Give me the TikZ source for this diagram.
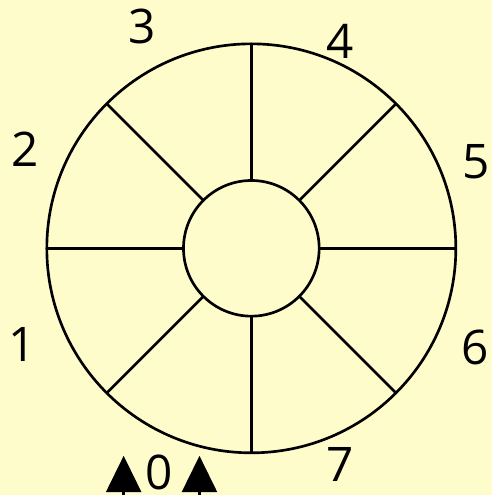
\documentclass[tikz,border=0pt]{standalone}
\usepackage{fontspec}
\setmainfont{Open Sans}
\usetikzlibrary{arrows.meta}

\begin{document}
\begin{tikzpicture}[x=0.025cm,y=-0.025cm,
    ring/.style={draw,circle,line width=1.9pt,outer sep=0pt,inner sep=0pt},
    spoke/.style={line width=1.9pt},
    num/.style={font=\fontsize{34}{40}\selectfont,inner sep=0pt},
    arrow/.style={-{Triangle[length=26pt,width=25pt]},line width=1.9pt}]
  \fill[yellow!20] (0,0) rectangle (493,496);
  % wheel
  \node[ring,minimum size=10.25cm] (outer) at (252,249) {};
  \node[ring,minimum size=3.4cm] (inner) at (252,249) {};
  \foreach \a in {0,45,...,315}
    \draw[spoke] (inner.\a) -- (outer.\a);
  % sector numbers
  \node[num] (n1) at (22,345) {1};
  \node[num] (n2) at (25,150) {2};
  \node[num] (n3) at (143,27) {3};
  \node[num] (n4) at (341,41) {4};
  \node[num] (n5) at (477,162) {5};
  \node[num] (n6) at (476,348) {6};
  \node[num] (n7) at (341,466) {7};
  \node[num] (n0) at (160,474) {0};
  % entry arrows
  \coordinate (ltail) at (124,496); \coordinate (lhead) at (124,457);
  \coordinate (rtail) at (200,496); \coordinate (rhead) at (200,457);
  \draw[arrow] (ltail) -- (lhead);
  \draw[arrow] (rtail) -- (rhead);
\end{tikzpicture}
\end{document}
